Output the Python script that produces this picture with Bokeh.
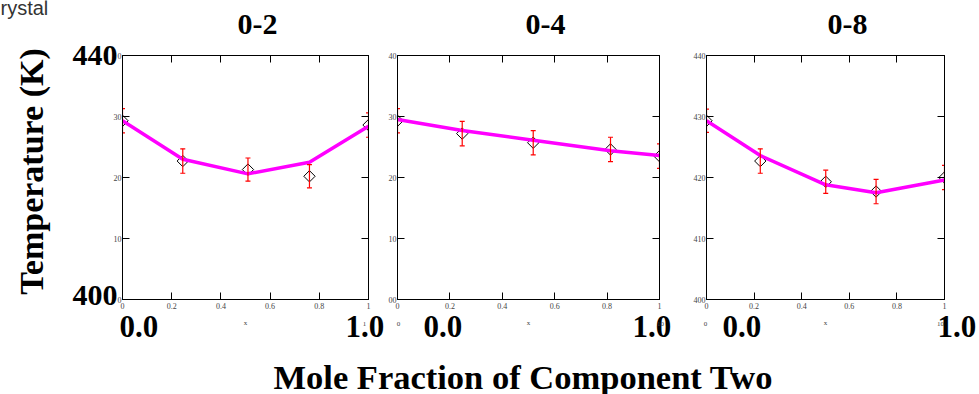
import math
from bokeh.plotting import figure
from bokeh.models import Range1d, LinearAxis, FixedTicker, Label
from bokeh.layouts import row, column
from bokeh.embed import file_html
from bokeh.resources import INLINE

# ---------------- data ----------------
titles = ["0-2", "0-4", "0-8"]

x_02 = [0.0, 0.245, 0.51, 0.76, 1.0]
fit_02 = [429.3, 423.0, 420.6, 422.5, 428.4]
meas_02 = [429.3, 422.7, 421.3, 420.2, 428.6]
err_02 = [2.0, 2.0, 1.9, 1.9, 2.0]

x_04 = [0.0, 0.247, 0.518, 0.813, 1.0]
fit_04 = [429.5, 427.7, 426.1, 424.4, 423.6]
meas_04 = [429.3, 427.2, 425.7, 424.6, 423.5]
err_04 = [2.0, 2.0, 2.0, 2.0, 2.0]

x_08 = [0.0, 0.226, 0.501, 0.7125, 1.0]
fit_08 = [429.3, 423.6, 418.8, 417.5, 419.6]
meas_08 = [429.3, 422.7, 419.3, 417.7, 420.0]
err_08 = [1.9, 2.0, 1.9, 2.0, 2.0]

x_ticks = [0, 0.2, 0.4, 0.6, 0.8, 1]
x_tick_labels = ["0", "0.2", "0.4", "0.6", "0.8", "1"]
y_ticks = [400, 410, 420, 430, 440]
y_tick_labels_02 = ["0", "10", "20", "30", "0"]
y_tick_labels_04 = ["00", "10", "20", "30", "40"]
y_tick_labels_08 = ["400", "410", "420", "430", "440"]
y_end_labels = ["400", "440"]
x_end_labels = ["0.0", "1.0"]
y_title = "Temperature (K)"
x_title = "Mole Fraction of Component Two"
corner_text = "rystal"

SERIF = "Liberation Serif"
W, H = 979, 394
TOP = 55
BOTTOM = 95
TICK_GRAY = "#444444"


def panel(width, left, right, xs, fit, meas, err, ylabels):
    p = figure(width=width, height=H, output_backend="svg", toolbar_location=None,
               x_range=Range1d(0, 1), y_range=Range1d(400, 440),
               min_border_left=left, min_border_right=right,
               min_border_top=TOP, min_border_bottom=BOTTOM)
    p.grid.visible = False
    p.outline_line_color = "black"
    p.outline_line_width = 1
    p.background_fill_color = "white"
    p.border_fill_color = "white"

    xa = p.xaxis[0]
    ya = p.yaxis[0]
    xa.ticker = FixedTicker(ticks=x_ticks)
    ya.ticker = FixedTicker(ticks=y_ticks)
    xa.major_label_overrides = dict(zip(x_ticks, x_tick_labels))
    ya.major_label_overrides = dict(zip(y_ticks, ylabels))
    xa.axis_label = "x"
    xa.axis_label_text_font = SERIF
    xa.axis_label_text_font_style = "normal"
    xa.axis_label_text_font_size = "7px"
    xa.axis_label_text_color = TICK_GRAY
    xa.axis_label_standoff = 7
    xa.major_label_standoff = 3
    ya.major_label_standoff = 1
    for ax in (xa, ya):
        ax.major_tick_in = 7
        ax.major_tick_out = 0
        ax.minor_tick_line_color = None
        ax.axis_line_color = "black"
        ax.major_tick_line_color = "black"
        ax.major_label_text_font = SERIF
        ax.major_label_text_font_size = "8px"
        ax.major_label_text_color = TICK_GRAY

    top = LinearAxis(ticker=FixedTicker(ticks=x_ticks), major_tick_in=7, major_tick_out=0,
                     minor_tick_line_color=None, major_label_text_font_size="0px",
                     major_label_text_color=None, major_label_standoff=0)
    rgt = LinearAxis(ticker=FixedTicker(ticks=y_ticks), major_tick_in=7, major_tick_out=0,
                     minor_tick_line_color=None, major_label_text_font_size="0px",
                     major_label_text_color=None, major_label_standoff=0)
    p.add_layout(top, "above")
    p.add_layout(rgt, "right")

    lo = [m - e for m, e in zip(meas, err)]
    hi = [m + e for m, e in zip(meas, err)]

    p.scatter(xs, meas, marker="square", angle=math.pi / 4, size=8,
              fill_color=None, line_color="black", line_width=1)
    p.line(xs, fit, line_color="#FF00FF", line_width=3.5)
    p.segment(x0=xs, y0=lo, x1=xs, y1=hi, line_color="red", line_width=1.2)
    p.scatter(xs, hi, marker="dash", size=5, line_color="red", line_width=1.2)
    p.scatter(xs, lo, marker="dash", size=5, line_color="red", line_width=1.2)
    return p


p1 = panel(384, 122, 16, x_02, fit_02, meas_02, err_02, y_tick_labels_02)
p2 = panel(306, 13, 31, x_04, fit_04, meas_04, err_04, y_tick_labels_04)
p3 = panel(289, 14, 35, x_08, fit_08, meas_08, err_08, y_tick_labels_08)

# ---------- transparent overlay carrying the free-standing texts ----------
ov = figure(width=W, height=H, output_backend="svg", toolbar_location=None,
            x_range=Range1d(0, W), y_range=Range1d(0, H), min_border=0,
            x_axis_type=None, y_axis_type=None,
            styles={"position": "absolute", "left": "0px", "top": "0px",
                    "z-index": "5", "pointer-events": "none"})
ov.grid.visible = False
ov.outline_line_color = None
ov.background_fill_color = None
ov.border_fill_color = None


def txt(x, y_top, text, size, bold=True, align="left", baseline="alphabetic",
        font=SERIF, color="black", angle=0.0):
    ov.add_layout(Label(x=x, y=H - y_top, x_units="screen", y_units="screen", text=text,
                        text_font=font, text_font_style="bold" if bold else "normal",
                        text_font_size=size, text_align=align, text_baseline=baseline,
                        text_color=color, angle=angle))


# panel titles
for cx, t in zip([257, 545, 847], titles):
    txt(cx, 24, t, "30px", align="center")

# big end labels of the axes
txt(117, 55, y_end_labels[1], "30px", align="right")
txt(117, 295, y_end_labels[0], "30px", align="right")
for x0, x1 in [(119, 345), (423, 632), (722, 937)]:
    txt(x0, 326, x_end_labels[0], "31px")
    txt(x1, 326, x_end_labels[1], "31px")

# small stray marks under the panels
for sx, t in [(364, "1"), (398, "0"), (660, "10"), (705, "0"), (940, "10")]:
    txt(sx, 323, t, "7px", bold=False, align="center", baseline="middle", color=TICK_GRAY)

# axis titles
txt(31, 171, y_title, "34px", align="center", baseline="middle", angle=math.pi / 2)
txt(273, 376, x_title, "34.5px")

# clipped corner caption
txt(0, 7, corner_text, "20px", bold=False, font="Liberation Sans", color="#333333")

layout = column(row(p1, p2, p3), ov)

open("out.html", "w").write(file_html(layout, INLINE))
